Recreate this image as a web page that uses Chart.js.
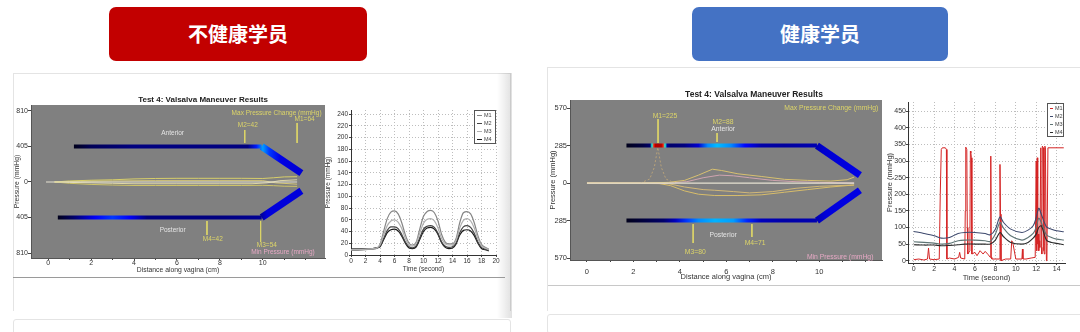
<!DOCTYPE html>
<html lang="zh">
<head>
<meta charset="utf-8">
<script src="https://cdn.jsdelivr.net/npm/chart.js@4.4.1/dist/chart.umd.min.js"></script>
<style>
 html,body{margin:0;padding:0;background:#fff;}
 body{width:1080px;height:332px;overflow:hidden;position:relative;}
 .hdr{position:absolute;top:7px;height:54px;border-radius:7px;color:#fff;font-family:"Noto Sans CJK SC","Noto Sans",sans-serif;font-weight:700;font-size:20px;line-height:54px;text-align:center;}
 .card{position:absolute;background:#fff;border:1px solid #e4e4e4;box-sizing:border-box;}
 .sep{position:absolute;height:1px;}
 .cv{position:absolute;}
</style>
</head>
<body>
<div class="hdr" style="left:109px;width:258px;background:#c20000;">不健康学员</div>
<div class="hdr" style="left:692px;width:256px;background:#4472c4;">健康学员</div>
<div class="card" style="left:13px;top:73px;width:498px;height:238px;border-bottom:none;"></div>
<div style="position:absolute;left:497px;top:73px;width:15px;height:245px;background:linear-gradient(to right,rgba(0,0,0,0),rgba(0,0,0,0.12));"></div>
<div class="card" style="left:13px;top:319px;width:498px;height:20px;border-radius:3px;"></div>
<div class="card" style="left:547px;top:67px;width:540px;height:244px;border-bottom:none;"></div>
<div class="card" style="left:547px;top:314px;width:540px;height:20px;border-radius:3px;"></div>
<div class="sep" style="left:13px;top:277px;width:492px;background:#9a9a9a;"></div>
<div class="sep" style="left:548px;top:285px;width:532px;background:#c8c8c8;"></div>
<canvas id="cA" class="cv" style="left:0px;top:88px;" width="330" height="192"></canvas>
<canvas id="cB" class="cv" style="left:320px;top:95px;" width="190" height="190"></canvas>
<canvas id="cC" class="cv" style="left:540px;top:85px;" width="345" height="200"></canvas>
<canvas id="cD" class="cv" style="left:875px;top:95px;" width="205" height="190"></canvas>
<script>
// ================= DATA =================
const titleText = 'Test 4: Valsalva Maneuver Results';
const distTitle = 'Distance along vagina (cm)';
const presTitle = 'Pressure (mmHg)';
const timeTitle = 'Time (second)';
const maxLabel = 'Max Pressure Change (mmHg)';
const minLabel = 'Min Pressure (mmHg)';
const seriesNames = ['M1', 'M2', 'M3', 'M4'];

// ---- Left (不健康学员) pressure map ----
const L_yTicks = [-810, -405, 0, 405, 810];
const L_xTicks = [0, 1, 2, 3, 4, 5, 6, 7, 8, 9, 10, 11, 12];
const L_antX = [1.2, 9.95, 11.8];
const L_antY = [405, 405, 100];
const L_antLvlX = [1.2, 2, 4, 6, 8, 9.3, 9.7, 10.0, 10.3, 10.8, 11.8];
const L_antLvl  = [-0.1, -0.04, 0, 0, 0, 0, 0.15, 0.28, 0.18, 0.1, 0.08];
const L_postX = [0.45, 9.95, 11.8];
const L_postY = [-405, -405, -100];
const L_postLvlX = [0.45, 1.2, 2.2, 3, 3.8, 4.6, 6, 8, 9.9, 10.2, 11.8];
const L_postLvl  = [-0.1, -0.02, 0.12, 0.18, 0.12, 0.0, 0.0, 0.0, 0.02, 0.09, 0.09];
const L_baseX = [-0.1, 11.6];
const L_baseY = [0, 0];
const L_tr1X = [0.3, 1, 2, 3, 4, 5, 6, 7, 8, 9, 10, 10.5, 11, 11.6];
const L_tr1Y = [0, 12, 20, 25, 35, 40, 42, 42, 42, 42, 40, 48, 58, 60];
const L_tr2X = [0.3, 1, 2, 3, 4, 5, 6, 7, 8, 9, 10, 10.5, 11, 11.6];
const L_tr2Y = [0, -15, -28, -35, -40, -40, -40, -40, -40, -40, -38, -42, -48, -50];
const L_tr3X = [0.3, 1, 2, 3, 4, 6, 8, 9.5, 10.2, 10.8, 11.6];
const L_tr3Y = [0, -5, -10, -15, -20, -20, -20, -20, -10, 15, 25];
const L_tr4X = [0.3, 1.5, 3, 5, 8, 10, 10.6, 11.6];
const L_tr4Y = [0, 8, 12, 15, 15, 15, -10, -25];
const L_markX   = [11.6, 9.16, 9.9, 7.4];
const L_markTop = [673, 593, -445, -445];
const L_markBot = [445, 445, -684, -604];
const L_markText = ['M1=64', 'M2=42', 'M3=54', 'M4=42'];
const L_markTextX = [11.95, 9.3, 10.19, 7.67];
const L_markTextY = [718, 650, -718, -650];

// ---- Left time chart ----
const B_t  = [0,1,2,3,3.5,4,4.5,5,5.5,6,6.5,7,7.5,8,8.5,9,9.5,10,10.5,11,11.5,12,12.5,13,13.5,14,14.5,15,15.5,16,16.5,17,17.5,18,18.5,19];
const B_M1 = [8,8,9,10,11,18,40,62,73,75,70,55,34,20,17,22,45,66,74,76,72,58,35,22,19,19,28,55,72,74,70,55,33,18,13,10];
const B_M2 = [10,10,11,11,12,15,28,42,48,48,45,35,22,14,12,16,30,44,49,50,47,37,22,15,13,14,21,38,48,50,47,37,22,13,10,8];
const B_M3 = [9,9,10,11,12,17,34,50,58,60,56,45,28,17,15,20,38,54,61,62,58,46,28,19,17,17,25,46,59,62,58,46,28,16,12,9];
const B_M4 = [10,10,10,11,12,14,26,38,43,44,41,32,20,12,11,14,27,40,46,47,44,35,21,13,11,12,19,34,42,43,41,33,20,11,9,7];

// ---- Right (健康学员) pressure map ----
const R_yTicks = [-570, -285, 0, 285, 570];
const R_xTicks = [0, 1, 2, 3, 4, 5, 6, 7, 8, 9, 10, 11, 12];
const R_antX = [1.7, 9.9, 11.75];
const R_antY = [285, 285, 60];
const R_antLvlX = [1.7, 2.4, 2.72, 2.8, 2.88, 2.95, 3.2, 3.28, 3.36, 3.45, 3.6, 4.2, 4.8, 5.2, 5.6, 6.2, 6.8, 7.5, 8.5, 9.9, 10.2, 11.75];
const R_antLvl  = [-0.1, -0.06, -0.02, 0.4, 0.85, 0.95, 0.95, 0.85, 0.4, 0.03, -0.02, 0.0, 0.08, 0.26, 0.31, 0.26, 0.13, 0.04, 0.03, 0.05, 0.08, 0.1];
const R_postX = [1.7, 9.9, 11.75];
const R_postY = [-285, -285, -55];
const R_postLvlX = [1.7, 2.5, 3.3, 3.8, 4.3, 4.8, 5.5, 6.3, 6.9, 7.5, 8.5, 9.9, 10.3, 11.75];
const R_postLvl  = [-0.1, -0.06, -0.02, 0.06, 0.18, 0.26, 0.3, 0.28, 0.16, 0.06, 0.04, 0.05, 0.09, 0.1];
const R_baseX = [0, 11.5];
const R_baseY = [0, 0];
const R_pkX = [2.3, 2.7, 2.9, 3.05, 3.2, 3.4, 3.8];
const R_pkY = [0, 30, 120, 270, 120, 30, 0];
const R_tr1X = [0, 2.5, 3.5, 4.2, 4.8, 5.4, 5.8, 6.5, 7.5, 8.5, 9.5, 10.5, 11.2, 11.5];
const R_tr1Y = [0, 0, 5, 20, 60, 105, 95, 70, 50, 28, 20, 15, 25, 45];
const R_tr2X = [0, 3.5, 4.3, 5, 5.7, 6.3, 7, 8, 9, 10, 11.5];
const R_tr2Y = [0, 0, 10, 40, 60, 55, 40, 20, 10, 5, 0];
const R_tr3X = [0, 3, 3.6, 4.2, 4.8, 5.5, 6.5, 7.5, 8.5, 9.5, 10.5, 11.5];
const R_tr3Y = [0, 0, -20, -60, -85, -95, -95, -90, -70, -50, -30, -15];
const R_tr4X = [0, 3.5, 4.2, 5, 5.5, 6.3, 7, 8, 9, 10, 11.5];
const R_tr4Y = [0, -5, -30, -50, -55, -65, -75, -65, -40, -25, -15];
const R_markX   = [3.06, 5.6, 4.57, 7.1];
const R_markTop = [486, 380, -312, -312];
const R_markBot = [304, 312, -456, -410];
const R_markText = ['M1=225', 'M2=88', 'M3=80', 'M4=71'];
const R_markTextX = [3.36, 5.86, 4.66, 7.24];
const R_markTextY = [509, 463, -524, -456];

// ---- Right time chart ----
const D_t  = [0, 1, 2, 2.7, 3.5, 4.35, 5, 6, 7, 7.5, 8, 8.45, 8.8, 9.5, 10.6, 11.2, 11.7, 12.0, 12.25, 12.5, 13, 13.5, 14, 14.7];
const D_M2 = [88, 82, 75, 68, 70, 82, 85, 85, 82, 78, 95, 132, 115, 95, 85, 92, 105, 130, 158, 140, 102, 95, 90, 87];
const D_M3 = [57, 55, 53, 50, 52, 60, 62, 62, 60, 58, 80, 115, 98, 75, 62, 70, 82, 100, 128, 115, 78, 70, 65, 62];
const D_M4 = [48, 47, 47, 45, 46, 48, 50, 50, 50, 50, 62, 85, 72, 55, 50, 55, 68, 80, 100, 105, 62, 55, 52, 48];
const D_M1x = [0,0.5,1,1.35,1.45,1.55,2,2.5,2.6,2.7,2.8,3.1,3.2,3.25,3.5,4,4.4,4.5,4.6,5,5.05,5.1,5.2,5.25,5.3,5.5,5.55,5.6,5.65,5.7,6,6.2,6.5,6.8,7,7.3,7.5,7.55,7.6,7.65,8,8.4,8.45,8.5,8.55,9,9.5,9.6,9.7,10,10.6,10.65,10.7,11,11.5,11.9,12.0,12.05,12.1,12.15,12.2,12.25,12.3,12.35,12.45,12.5,12.55,12.6,12.65,12.7,12.75,12.8,12.85,12.9,12.95,13.0,13.05,13.15,14.7];
const D_M1y = [3,5,2,5,38,5,3,5,200,335,340,340,335,5,8,5,10,25,8,5,150,342,335,100,20,30,330,325,310,20,25,15,30,20,28,18,10,315,10,5,5,5,290,140,0,5,5,60,55,5,5,35,5,5,8,10,300,30,310,50,80,30,60,40,340,40,20,345,345,340,30,20,345,340,340,0,5,340,340];

// ================= RENDERING =================
const FONT = '"Liberation Sans", Arial, Helvetica, sans-serif';
Chart.defaults.font.family = FONT;
Chart.defaults.color = '#333';
Chart.defaults.animation = false;
Chart.defaults.plugins.legend.display = false;
Chart.defaults.plugins.tooltip.enabled = false;

function jet(v) {
  const c = t => Math.max(0, Math.min(1, t));
  const r = c(1.5 - Math.abs(4 * v - 3)), g = c(1.5 - Math.abs(4 * v - 2)), b = c(1.5 - Math.abs(4 * v - 1));
  return `rgb(${Math.round(r * 255)},${Math.round(g * 255)},${Math.round(b * 255)})`;
}
function pts(xs, ys) { return xs.map((x, i) => ({ x, y: ys[i] })); }
function bandGradient(chart, lx, lv) {
  const { ctx, chartArea, scales } = chart;
  if (!chartArea || !scales.x) return '#000080';
  const x0 = scales.x.getPixelForValue(lx[0]), x1 = scales.x.getPixelForValue(lx[lx.length - 1]);
  const g = ctx.createLinearGradient(x0, 0, x1, 0);
  lx.forEach((v, i) => {
    const off = Math.min(1, Math.max(0, (scales.x.getPixelForValue(v) - x0) / (x1 - x0)));
    g.addColorStop(off, jet(lv[i]));
  });
  return g;
}

const paintPlugin = {
  id: 'paint',
  beforeDraw(chart, a, o) {
    if (o.bg) {
      const { ctx, chartArea: c } = chart;
      ctx.save(); ctx.fillStyle = o.bg; ctx.fillRect(c.left, c.top, c.right - c.left, c.bottom - c.top); ctx.restore();
    }
  },
  afterDatasetsDraw(chart, a, o) {
    const { ctx, scales: { x, y } } = chart;
    (o.texts || []).forEach(t => {
      ctx.save();
      ctx.font = `${t.size}px ${FONT}`;
      ctx.fillStyle = t.color; ctx.textAlign = t.align || 'center'; ctx.textBaseline = 'middle';
      ctx.fillText(t.text, x.getPixelForValue(t.x), y.getPixelForValue(t.y));
      ctx.restore();
    });
  },
  afterDraw(chart, a, o) {
    const { ctx, chartArea: c } = chart;
    if (o.title) {
      ctx.save();
      ctx.font = `bold ${o.title.size}px ${FONT}`; ctx.fillStyle = '#222';
      ctx.textAlign = 'center'; ctx.textBaseline = 'middle';
      ctx.fillText(o.title.text, o.title.cx, o.title.cy);
      ctx.restore();
    }
    if (o.legend) {
      const L = o.legend;
      const ds = chart.data.datasets.slice().sort((p, q) => p.label.localeCompare(q.label));
      const x0 = Math.round(c.right - L.inset - L.w), y0 = Math.round(c.top + L.inset);
      const h = L.pad * 2 + ds.length * L.row;
      ctx.save();
      ctx.fillStyle = '#fff'; ctx.fillRect(x0, y0, L.w, h);
      ctx.strokeStyle = '#555'; ctx.lineWidth = 1; ctx.strokeRect(x0 + 0.5, y0 + 0.5, L.w - 1, h - 1);
      ctx.font = `${L.size}px ${FONT}`; ctx.textBaseline = 'middle'; ctx.textAlign = 'left';
      ds.forEach((d, i) => {
        const yy = Math.round(y0 + L.pad + L.row * (i + 0.5)) + 0.5;
        ctx.strokeStyle = d.borderColor; ctx.lineWidth = 1;
        ctx.beginPath(); ctx.moveTo(x0 + 3, yy); ctx.lineTo(x0 + 3 + L.sw, yy); ctx.stroke();
        ctx.fillStyle = '#444'; ctx.fillText(d.label, x0 + 5 + L.sw, yy);
      });
      ctx.restore();
    }
  }
};
Chart.register(paintPlugin);

function lineDs(xs, ys, color, width, extra) {
  return Object.assign({ data: pts(xs, ys), borderColor: color, borderWidth: width, pointRadius: 0, fill: false, tension: 0 }, extra || {});
}
function bandDs(xs, ys, lx, lv) {
  return {
    data: pts(xs, ys), pointRadius: 0, fill: false, tension: 0,
    borderColor: ctx => bandGradient(ctx.chart, lx, lv),
    borderWidth: 4, borderCapStyle: 'butt', borderJoinStyle: 'miter',
    segment: { borderWidth: s => (Math.abs(s.p0.y - s.p1.y) < 0.5 ? 4 : 7) }
  };
}

function grayChart(id, g) {
  const yellow = '#dcd468';
  const datasets = [
    lineDs(g.base[0], g.base[1], '#e6e2d2', 1.2),
    ...g.traces.map(t => lineDs(t[0], t[1], t[2], 1, t[3] ? { borderDash: t[3] } : {})),
    bandDs(g.ant[0], g.ant[1], g.ant[2], g.ant[3]),
    bandDs(g.post[0], g.post[1], g.post[2], g.post[3]),
    ...g.markX.map((mx, i) => lineDs([mx, mx], [g.markTop[i], g.markBot[i]], yellow, 1))
  ];
  const texts = [
    ...g.markText.map((t, i) => ({ text: t, x: g.markTextX[i], y: g.markTextY[i], color: yellow, size: g.annSize })),
    { text: 'Anterior', x: g.antLab[0], y: g.antLab[1], color: '#e4e4e4', size: g.annSize },
    { text: 'Posterior', x: g.postLab[0], y: g.postLab[1], color: '#e4e4e4', size: g.annSize },
    { text: maxLabel, x: g.maxLab[0], y: g.maxLab[1], color: yellow, size: g.annSize, align: 'right' },
    { text: minLabel, x: g.minLab[0], y: g.minLab[1], color: '#e6a8c4', size: g.annSize, align: 'right' }
  ];
  return new Chart(document.getElementById(id), {
    type: 'line',
    data: { datasets },
    options: {
      responsive: false, devicePixelRatio: 1, events: [],
      layout: { padding: { left: 0, top: g.padTop, right: g.padRight, bottom: 0 } },
      plugins: { paint: { bg: '#808080', texts, title: { text: titleText, cx: g.titleX, cy: g.titleY, size: g.titleSize } } },
      scales: {
        x: {
          type: 'linear', min: g.xmin, max: g.xmax,
          afterFit: s => { s.height = g.xh; },
          afterBuildTicks: s => { s.ticks = g.xTicks.map(v => ({ value: v })); },
          ticks: { autoSkip: false, maxRotation: 0, padding: g.xTickPad, font: { size: g.tickSize, lineHeight: 1 }, color: '#333',
                   callback: v => (v % 2 === 0 && v <= 10) ? String(v) : '' },
          grid: { drawOnChartArea: false, drawTicks: true, tickLength: 2, tickColor: '#444' },
          border: { display: true, color: '#555' },
          title: { display: true, text: distTitle, color: '#333', font: { size: g.axTitleSize }, padding: { top: 0, bottom: g.xTitlePad } }
        },
        y: {
          type: 'linear', min: g.ymin, max: g.ymax,
          afterFit: s => { s.width = g.yw; },
          afterBuildTicks: s => { s.ticks = g.yTicks.map(v => ({ value: v })); },
          ticks: { padding: 0, font: { size: g.tickSize, lineHeight: 1 }, color: '#333', callback: v => String(Math.abs(v)) },
          grid: { drawOnChartArea: false, drawTicks: true, tickLength: 3, tickColor: '#444' },
          border: { display: true, color: '#555' },
          title: { display: true, text: presTitle, color: '#333', font: { size: g.axTitleSize }, padding: { top: g.yTitlePad, bottom: 0 } }
        }
      }
    }
  });
}

function timeChart(id, t) {
  return new Chart(document.getElementById(id), {
    type: 'line',
    data: { datasets: t.datasets },
    options: {
      responsive: false, devicePixelRatio: 1, events: [],
      layout: { padding: { left: 0, top: t.padTop, right: t.padRight, bottom: 0 } },
      plugins: { paint: { legend: t.legend } },
      scales: {
        x: {
          type: 'linear', min: t.xmin, max: t.xmax,
          afterFit: s => { s.height = t.xh; },
          ticks: { stepSize: t.xStep, includeBounds: false, autoSkip: false, maxRotation: 0, padding: t.xTickPad, font: { size: t.tickSize, lineHeight: 1 }, color: '#333' },
          grid: { color: '#bdbdbd', tickLength: 2, tickColor: '#444' },
          border: { display: true, color: '#333', dash: [1, 2] },
          title: { display: true, text: timeTitle, color: '#333', font: { size: t.axTitleSize }, padding: { top: 0, bottom: t.xTitlePad } }
        },
        y: {
          type: 'linear', min: t.ymin, max: t.ymax,
          afterFit: s => { s.width = t.yw; },
          ticks: { stepSize: t.yStep, includeBounds: false, padding: t.yTickPad, font: { size: t.tickSize, lineHeight: 1 }, color: '#333' },
          grid: { color: '#bdbdbd', tickLength: 2, tickColor: '#444' },
          border: { display: true, color: '#333', dash: [1, 2] },
          title: { display: true, text: presTitle, color: '#333', font: { size: t.axTitleSize }, padding: { top: t.yTitlePad, bottom: 0 } }
        }
      }
    }
  });
}

// Chart A: left pressure map
grayChart('cA', {
  xmin: -0.8, xmax: 12.9, ymin: -867, ymax: 878, xTicks: L_xTicks, yTicks: L_yTicks,
  padTop: 17, padRight: 5, yw: 31, xh: 22, xTickPad: 0, xTitlePad: 5.9, yTitlePad: 12.9,
  tickSize: 7, axTitleSize: 6.8, annSize: 6.5, titleSize: 8, titleX: 203, titleY: 12,
  base: [L_baseX, L_baseY],
  traces: [[L_tr1X, L_tr1Y, '#d8cf6a'], [L_tr2X, L_tr2Y, '#cfc468'], [L_tr3X, L_tr3Y, '#e0d8a8'], [L_tr4X, L_tr4Y, '#d6c878']],
  ant: [L_antX, L_antY, L_antLvlX, L_antLvl], post: [L_postX, L_postY, L_postLvlX, L_postLvl],
  markX: L_markX, markTop: L_markTop, markBot: L_markBot, markText: L_markText, markTextX: L_markTextX, markTextY: L_markTextY,
  antLab: [5.8, 559], postLab: [5.8, -547], maxLab: [12.74, 787], minLab: [12.42, -800]
});

// Chart B: left time chart
timeChart('cB', {
  xmin: 0, xmax: 20, ymin: 0, ymax: 247, xStep: 2, yStep: 20,
  padTop: 15, padRight: 14, yw: 31, xh: 30, xTickPad: 0.5, yTickPad: 1, xTitlePad: 12.1, yTitlePad: 4.1,
  tickSize: 6.5, axTitleSize: 6.5,
  legend: { w: 22, inset: 0, pad: 1, row: 8, sw: 5, size: 5.5 },
  datasets: [
    lineDs(B_t, B_M3, '#b0b0b0', 1.2, { label: seriesNames[2], cubicInterpolationMode: 'monotone' }),
    lineDs(B_t, B_M1, '#858585', 1.2, { label: seriesNames[0], cubicInterpolationMode: 'monotone' }),
    lineDs(B_t, B_M2, '#454545', 1.2, { label: seriesNames[1], cubicInterpolationMode: 'monotone' }),
    lineDs(B_t, B_M4, '#1a1a1a', 1.2, { label: seriesNames[3], cubicInterpolationMode: 'monotone' })
  ]
});

// Chart C: right pressure map
grayChart('cC', {
  xmin: -0.73, xmax: 12.7, ymin: -585, ymax: 631, xTicks: R_xTicks, yTicks: R_yTicks,
  padTop: 15, padRight: 3, yw: 30, xh: 25, xTickPad: 6, xTitlePad: 3.5, yTitlePad: 8.5,
  tickSize: 7.5, axTitleSize: 7.5, annSize: 6.8, titleSize: 8.5, titleX: 214, titleY: 10,
  base: [R_baseX, R_baseY],
  traces: [[R_pkX, R_pkY, '#b8a27a', [2, 2]], [R_tr1X, R_tr1Y, '#d8c070'], [R_tr2X, R_tr2Y, '#cfa4b0'], [R_tr3X, R_tr3Y, '#d8bd6a'], [R_tr4X, R_tr4Y, '#d2b878']],
  ant: [R_antX, R_antY, R_antLvlX, R_antLvl], post: [R_postX, R_postY, R_postLvlX, R_postLvl],
  markX: R_markX, markTop: R_markTop, markBot: R_markBot, markText: R_markText, markTextX: R_markTextX, markTextY: R_markTextY,
  antLab: [5.86, 410], postLab: [5.86, -395], maxLab: [12.54, 570], minLab: [12.33, -560]
});

// Chart D: right time chart
timeChart('cD', {
  xmin: -0.56, xmax: 14.82, ymin: -7, ymax: 478, xStep: 2, yStep: 50,
  padTop: 7, padRight: 15, yw: 33, xh: 22, xTickPad: 0.5, yTickPad: 0, xTitlePad: 2.5, yTitlePad: 10.5,
  tickSize: 7, axTitleSize: 7.5,
  legend: { w: 17, inset: 1, pad: 1, row: 8, sw: 3, size: 5.5 },
  datasets: [
    lineDs(D_t, D_M4, '#2a2a2a', 1.1, { label: seriesNames[3], tension: 0.3 }),
    lineDs(D_t, D_M3, '#5e7474', 1.1, { label: seriesNames[2], tension: 0.3 }),
    lineDs(D_t, D_M2, '#3e4a6e', 1.1, { label: seriesNames[1], tension: 0.3 }),
    lineDs(D_M1x, D_M1y, '#d42424', 1, { label: seriesNames[0] })
  ]
});
</script>
</body>
</html>
